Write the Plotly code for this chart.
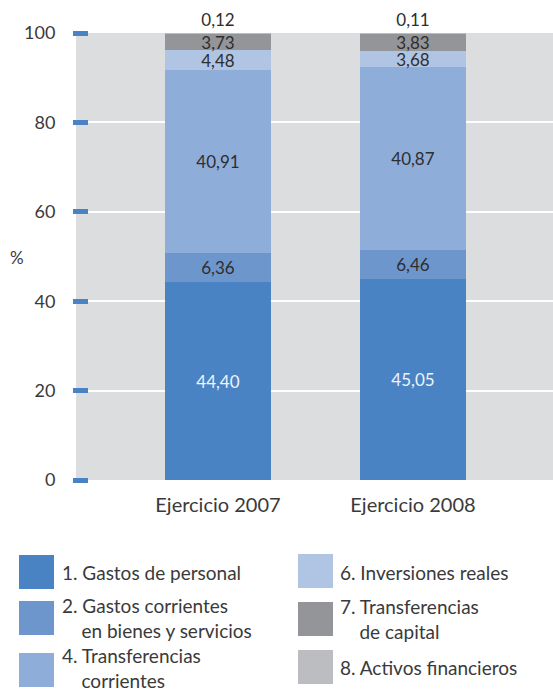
import plotly.graph_objects as go

categories = ["Ejercicio 2007", "Ejercicio 2008"]
series_names = [
    "1. Gastos de personal",
    "2. Gastos corrientes<br>    en bienes y servicios",
    "4. Transferencias<br>    corrientes",
    "6. Inversiones reales",
    "7. Transferencias<br>    de capital",
    "8. Activos financieros",
]
gastos_personal = [44.40, 45.05]
gastos_corrientes = [6.36, 6.46]
transf_corrientes = [40.91, 40.87]
inversiones_reales = [4.48, 3.68]
transf_capital = [3.73, 3.83]
activos_financieros = [0.12, 0.11]
y_ticks = [0, 20, 40, 60, 80, 100]

colors = ["#4a83c4", "#6d96cd", "#8fadd9", "#b0c4e4", "#949598", "#bcbdc1"]
text_colors = ["#eef3fa", "#2e2e2e", "#2e2e2e", "#2e2e2e", "#2e2e2e", "#2e2e2e"]
values = [gastos_personal, gastos_corrientes, transf_corrientes,
          inversiones_reales, transf_capital, activos_financieros]

W, H = 553, 689
L, R, T, B = 76, 553, 33, 480
FONT = "Lato"
TXT = "#3a3a3a"

fig = go.Figure()
for i, (name, vals) in enumerate(zip(series_names, values)):
    last = i == len(values) - 1
    fig.add_trace(go.Bar(
        x=categories, y=vals, name=name,
        marker=dict(color=colors[i], line=dict(width=0)),
        width=0.544,
        texttemplate="%{y:.2f}",
        textposition="outside" if last else "inside",
        insidetextanchor="middle",
        textangle=0,
        cliponaxis=False,
        textfont=dict(family=FONT, size=17, color=text_colors[i]),
        constraintext="none",
        showlegend=False,
    ))

def px_x(p):
    return (p - L) / (R - L)

def px_y(p):
    return (B - p) / (B - T)

shapes = []
annotations = []
sw = [(19, 555, 589), (19, 601, 635), (19, 653, 687),
      (298, 554, 588), (298, 602, 636), (298, 650, 684)]
text_pos = [(60, 572), (60, 618), (60, 668), (338, 572), (338, 619), (338, 667)]
for i, name in enumerate(series_names):
    x0, y0, y1 = sw[i]
    shapes.append(dict(type="rect", xref="paper", yref="paper",
                       x0=px_x(x0), x1=px_x(x0 + 35), y0=px_y(y1), y1=px_y(y0),
                       fillcolor=colors[i], line=dict(width=0), layer="above"))
    tx, ty = text_pos[i]
    annotations.append(dict(xref="paper", yref="paper", x=px_x(tx), y=px_y(ty),
                            xanchor="left", yanchor="middle", align="left",
                            text=name.replace("    ", "&nbsp;&nbsp;&nbsp;&nbsp;"),
                            showarrow=False,
                            font=dict(family=FONT, size=19, color=TXT)))

annotations.append(dict(xref="paper", yref="paper", x=px_x(17), y=px_y(257),
                        xanchor="center", yanchor="middle", text="%", showarrow=False,
                        font=dict(family=FONT, size=17, color=TXT)))

fig.update_layout(
    width=W, height=H,
    margin=dict(l=L, r=W - R, t=T, b=H - B, pad=0),
    barmode="stack",
    bargap=0,
    plot_bgcolor="#dcdddf",
    paper_bgcolor="white",
    separators=",.",
    font=dict(family=FONT, size=18, color=TXT),
    shapes=shapes,
    annotations=annotations,
    xaxis=dict(range=[-0.728, 1.718], showgrid=False, zeroline=False,
               tickfont=dict(family=FONT, size=20, color=TXT), ticks="",
               ticklabelstandoff=11, showline=False),
    yaxis=dict(range=[0, 100], tickvals=y_ticks, showgrid=True, gridcolor="white",
               gridwidth=1.5, zeroline=False, showline=False,
               anchor="free", position=12 / (R - L),
               ticks="outside", ticklen=15, tickwidth=4.5, tickcolor="#4a83c4",
               ticklabelstandoff=14,
               tickfont=dict(family=FONT, size=18, color=TXT)),
)

fig.write_html("out.html", config={"displayModeBar": False},
               post_script="document.body.style.margin='0px';")
